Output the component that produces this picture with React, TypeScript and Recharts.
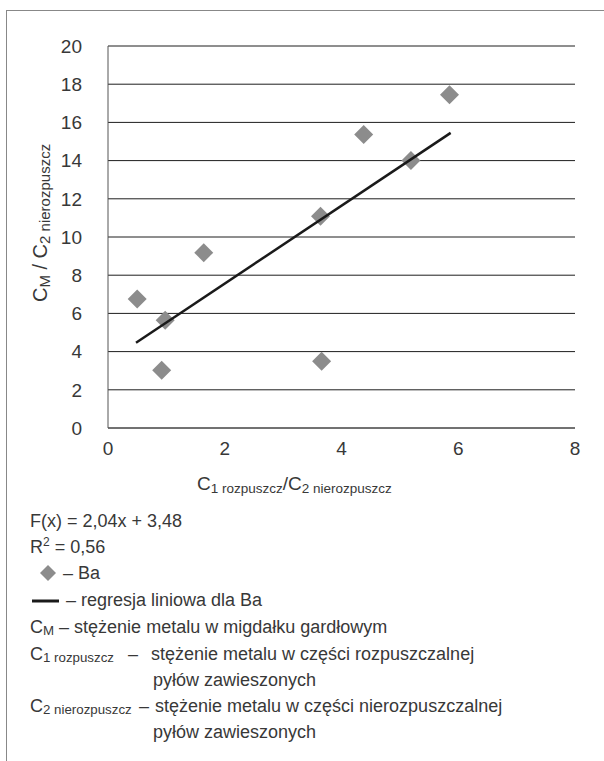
import { CartesianGrid, Scatter, ScatterChart, XAxis, YAxis } from "recharts";

// data
const xTicks = [0, 2, 4, 6, 8];
const yTicks = [0, 2, 4, 6, 8, 10, 12, 14, 16, 18, 20];
const baX = [0.5, 0.92, 0.98, 1.64, 3.64, 3.66, 4.38, 5.19, 5.85];
const baY = [6.75, 3.02, 5.64, 9.18, 11.08, 3.49, 15.36, 14.01, 17.45];
// regression line ends, F(x) = 2,04x + 3,48
const fitX = [0.48, 5.87];
const fitY = [4.46, 15.45];

const baData = baX.map((x, i) => ({ x, y: baY[i] }));
const fitData = fitX.map((x, i) => ({ x, y: fitY[i] }));

const FONT = "'Liberation Sans', Arial, Helvetica, sans-serif";
const TEXT = "#383838";

const Diamond = (props: any) => {
  const { cx, cy } = props;
  const r = 9.5;
  return (
    <path
      d={`M${cx},${cy - r}L${cx + r},${cy}L${cx},${cy + r}L${cx - r},${cy}Z`}
      fill="#8c8c8c"
    />
  );
};

const NoShape = () => <g />;

export default function App() {
  return (
    <div
      style={{
        position: "absolute",
        left: 0,
        top: 0,
        width: 604,
        height: 761,
        background: "#fff",
        fontFamily: FONT,
        overflow: "hidden",
      }}
    >
      {/* frame */}
      <div
        style={{
          position: "absolute",
          left: 6,
          top: 10,
          width: 620,
          height: 800,
          borderLeft: "1px solid #888",
          borderTop: "1px solid #888",
        }}
      />

      <div style={{ position: "absolute", left: 0, top: 0 }}>
        <ScatterChart
          width={604}
          height={500}
          margin={{ top: 46, right: 29, bottom: 0, left: 0 }}
        >
          <CartesianGrid horizontal vertical={false} stroke="#1e1e1e" />
          <XAxis
            type="number"
            dataKey="x"
            domain={[0, 8]}
            ticks={xTicks}
            interval={0}
            height={72}
            tickLine={false}
            axisLine={{ stroke: "#555" }}
            tickMargin={8}
            tick={{ fontSize: 19, fill: TEXT, fontFamily: FONT }}
          />
          <YAxis
            type="number"
            dataKey="y"
            domain={[0, 20]}
            ticks={yTicks}
            interval={0}
            width={108}
            tickLine={false}
            axisLine={{ stroke: "#555" }}
            tickMargin={20}
            tick={{ fontSize: 19, fill: TEXT, fontFamily: FONT }}
          />
          <Scatter data={baData} shape={<Diamond />} isAnimationActive={false} />
          <Scatter
            data={fitData}
            shape={<NoShape />}
            line={{ stroke: "#1a1a1a", strokeWidth: 2.5 }}
            isAnimationActive={false}
          />
        </ScatterChart>
      </div>

      {/* axis titles and legend */}
      <svg
        width={604}
        height={761}
        style={{ position: "absolute", left: 0, top: 0, pointerEvents: "none" }}
        fontFamily={FONT}
        fill={TEXT}
      >
        <text transform="translate(47,302) rotate(-90)" fontSize={20}>
          C<tspan fontSize={15} dy={3}>M</tspan>
          <tspan dy={-3}> / C</tspan>
          <tspan fontSize={15} dy={3}>2 nierozpuszcz</tspan>
        </text>
        <text x={197} y={490} fontSize={19}>
          C<tspan fontSize={13.5} dy={3}>1 rozpuszcz</tspan>
          <tspan dy={-3}>/C</tspan>
          <tspan fontSize={13.5} dy={3}>2 nierozpuszcz</tspan>
        </text>

        <text x={30} y={527} fontSize={18}>F(x) = 2,04x + 3,48</text>
        <text x={30} y={553} fontSize={18}>
          R<tspan fontSize={12} dy={-7}>2</tspan>
          <tspan dy={7}> = 0,56</tspan>
        </text>
        <path d="M48,565L56,573L48,581L40,573Z" fill="#8c8c8c" />
        <text x={63} y={579} fontSize={18}>– Ba</text>
        <line x1={32} y1={601} x2={59} y2={601} stroke="#1a1a1a" strokeWidth={3} />
        <text x={66} y={606} fontSize={18}>– regresja liniowa dla Ba</text>
        <text x={30} y={633} fontSize={18}>
          C<tspan fontSize={13.3} dy={2}>M</tspan>
          <tspan fontSize={18} dy={-2}> – stężenie metalu w migdałku gardłowym</tspan>
        </text>
        <text x={30} y={660} fontSize={18}>
          C<tspan fontSize={13.3} dy={2}>1 rozpuszcz</tspan>
        </text>
        <text x={128} y={660} fontSize={18}>–</text>
        <text x={151} y={660} fontSize={18}>stężenie metalu w części rozpuszczalnej</text>
        <text x={153} y={686} fontSize={18}>pyłów zawieszonych</text>
        <text x={30} y={712} fontSize={18}>
          C<tspan fontSize={13.3} dy={2}>2 nierozpuszcz</tspan>
        </text>
        <text x={139} y={712} fontSize={18}>–</text>
        <text x={155} y={712} fontSize={18}>stężenie metalu w części nierozpuszczalnej</text>
        <text x={153} y={738} fontSize={18}>pyłów zawieszonych</text>
      </svg>
    </div>
  );
}
